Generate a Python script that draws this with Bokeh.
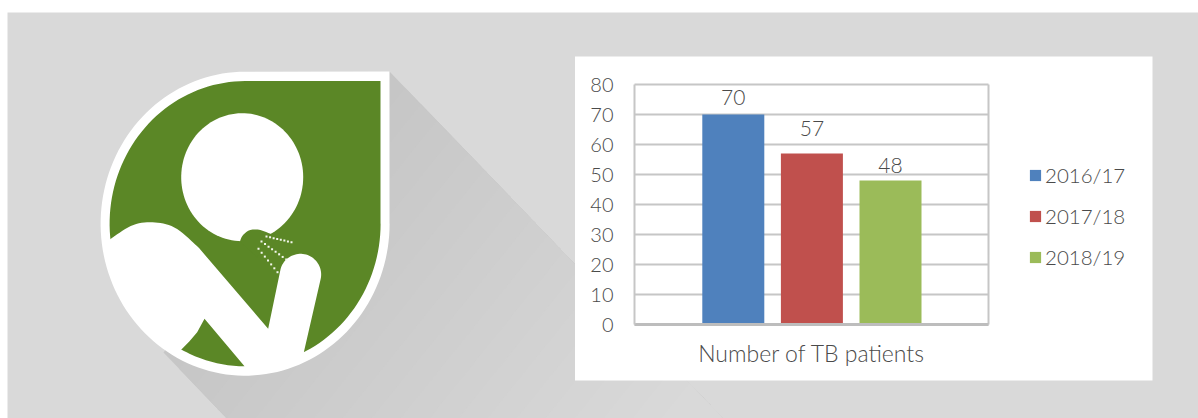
import numpy as np
from bokeh.embed import file_html
from bokeh.resources import INLINE
from bokeh.plotting import figure
from bokeh.models import Legend, LegendItem, Range1d, FixedTicker, ColumnDataSource, LinearAxis
from bokeh.core.properties import value

# ---- data ----
category = "Number of TB patients"
years = ["2016/17", "2017/18", "2018/19"]
patients = [70, 57, 48]
y_ticks = [0, 10, 20, 30, 40, 50, 60, 70, 80]
bar_colors = ["#4f81bd", "#c0504d", "#9bbb59"]
label_gaps = [16.7, 25, 15.5]   # distance of each data label above its bar, px

FONT = "Lato Light"
TXT = "#4a4a4a"
GRID = "#c6c6c6"
BG = "#d9d9d9"
LEAF = "#5b8726"

# canvas spans page pixels x 7..1198, y 12..418
L, R, T, B_ = 7, 1198, 12, 418
p = figure(width=R - L, height=B_ - T, x_range=Range1d(L, R), y_range=Range1d(B_, T),
           output_backend="svg", toolbar_location=None, x_axis_location=None, y_axis_location=None,
           min_border=0, margin=(T, 0, 0, L), outline_line_color=None)
p.background_fill_color = BG
p.border_fill_color = BG
p.grid.visible = False

# plot area of the chart, in page pixels
PL, PR, PT, PB = 634, 988, 84, 324
y_per_px = 80 / (PB - PT)
p.extra_y_ranges["val"] = Range1d((PB - B_) * y_per_px, (PB - T) * y_per_px)
BAR_STEP, BAR_W = 78.6, 62
MID = 811.4
p.extra_x_ranges["bars"] = Range1d((L - MID) / BAR_STEP + 1, (R - MID) / BAR_STEP + 1)


def shape(pts, color):
    p.patch([a for a, _ in pts], [b for _, b in pts], fill_color=color, line_color=None)


def z(pts):  # coordinates taken from the 3x crop of the icon
    return [(90 + a / 3, 60 + b / 3) for a, b in pts]


def ell(cx, cy, rx, ry, a0, a1, n=120):
    t = np.radians(np.linspace(a0, a1, n))
    return list(zip(cx + rx * np.cos(t), cy + ry * np.sin(t)))


def smooth(pts, rounds=3):
    pts = np.array(pts, float)
    for _ in range(rounds):
        q = 0.75 * pts[:-1] + 0.25 * pts[1:]
        r = 0.25 * pts[:-1] + 0.75 * pts[1:]
        mid = np.empty((2 * len(q), 2))
        mid[0::2], mid[1::2] = q, r
        pts = np.vstack([pts[:1], mid, pts[-1:]])
    return [tuple(v) for v in pts]


# long shadow, banded so that it fades away from the icon
A, B = np.array([389.0, 71.0]), np.array([163.0, 352.0])
d = np.array([1.0, 1.04])
bands = 19
for i in range(bands + 1):
    t = 300 * i / bands
    g = int(round(198 + (217 - 198) * i / bands))
    far = t + 700
    shape([tuple(A + t * d), tuple(A + far * d), tuple(B + far * d), tuple(B + t * d)],
          f"#{g:02x}{g:02x}{g:02x}")

# white panel behind the chart
shape([(574.5, 56), (1152, 56), (1152, 380), (574.5, 380)], "white")

# icon: outer white leaf, then green leaf
cx, cy = 244.6, 223.2
shape(ell(cx, cy, 144.5, 152, 0, 270) + [(389, 71), (389, cy)], "white")
shape(ell(cx, cy, 135.5, 142.6, 0, 270) + [(380, 80.6), (380, cy)], LEAF)
# head
shape(ell(241.7, 176.7, 61, 64, 0, 360), "white")
# green notch into the head
shape(z(smooth([(448, 543), (455, 525), (475, 508), (505, 506), (540, 520)], 2) + [(500, 590)]), LEAF)
# body and arm
shoulder = smooth([(58, 537), (125, 490), (190, 483), (255, 497), (325, 562)])
hand = ell(630, 642, 62, 62, 195, 372, 40)
body = z(shoulder + [(533, 805)] + hand + [(640, 875)])
shape(body + ell(cx, cy, 140, 147, 64, 174), "white")
# green triangle under the arm
tx = np.linspace(90 + 272 / 3, 90 + 462 / 3, 24)
tri = list(zip(tx, cy + 142.6 * np.sqrt(1 - ((tx - cx) / 135.5) ** 2)))
shape(tri + z([(342, 775), (320, 815), (297, 842), (272, 868)]), LEAF)
# cough droplets
for (x0, y0, x1, y1, n) in [(266, 236, 291, 241.7, 8), (261, 241, 285.7, 259, 8), (258, 248.3, 277, 271.7, 7)]:
    for x, y in zip(np.linspace(x0, x1, n), np.linspace(y0, y1, n)):
        shape([(x - 1, y - 1), (x + 1, y - 1), (x + 1, y + 1), (x - 1, y + 1)], "#f4f7ee")

# ---- chart ----
# grid lines and right-hand border
p.segment(x0=[PL] * len(y_ticks), x1=[PR] * len(y_ticks), y0=y_ticks, y1=y_ticks,
          y_range_name="val", line_color=GRID, line_width=2)
p.segment(x0=[PR], x1=[PR], y0=[0], y1=[80], y_range_name="val", line_color=GRID, line_width=2)

items = []
for i, year in enumerate(years):
    one = ColumnDataSource(dict(x=[i], top=[patients[i]], label=[str(patients[i])]))
    r = p.vbar(x="x", top="top", bottom=0, width=BAR_W / BAR_STEP, source=one,
               x_range_name="bars", y_range_name="val",
               fill_color=bar_colors[i], line_color=None)
    p.text(x="x", y="top", text="label", source=one, x_range_name="bars", y_range_name="val",
           text_font=value(FONT), text_font_size="21px", text_color=TXT,
           text_align="center", text_baseline="alphabetic", y_offset=-label_gaps[i])
    items.append(LegendItem(label=year, renderers=[r]))

yax = LinearAxis(y_range_name="val", fixed_location=PL, bounds=(0, 80),
                 ticker=FixedTicker(ticks=y_ticks))
yax.major_tick_line_color = None
yax.minor_tick_line_color = None
yax.axis_line_color = GRID
yax.axis_line_width = 2
yax.major_label_standoff = 15
yax.major_label_text_font = FONT
yax.major_label_text_font_size = "20px"
yax.major_label_text_color = TXT
p.add_layout(yax, "left")

xax = LinearAxis(x_range_name="bars", fixed_location=PB,
                 bounds=((PL - MID) / BAR_STEP + 1, (PR - MID) / BAR_STEP + 1),
                 ticker=FixedTicker(ticks=[1]), major_label_overrides={1: category})
xax.major_tick_line_color = None
xax.minor_tick_line_color = None
xax.axis_line_color = "#bdbdbd"
xax.axis_line_width = 3
xax.major_label_standoff = 8
xax.major_label_text_font = FONT
xax.major_label_text_font_size = "23px"
xax.major_label_text_color = TXT
p.add_layout(xax, "below")

legend = Legend(items=items, location=(1028 - L, B_ - 269), background_fill_alpha=0, border_line_color=None,
                glyph_width=14, glyph_height=14, label_text_font=FONT, label_text_font_size="20.5px",
                label_text_color=TXT, spacing=17, padding=0, margin=0, label_standoff=3,
                label_height=24, orientation="vertical")
p.add_layout(legend, "center")

open("out.html", "w").write(file_html(p, INLINE))
